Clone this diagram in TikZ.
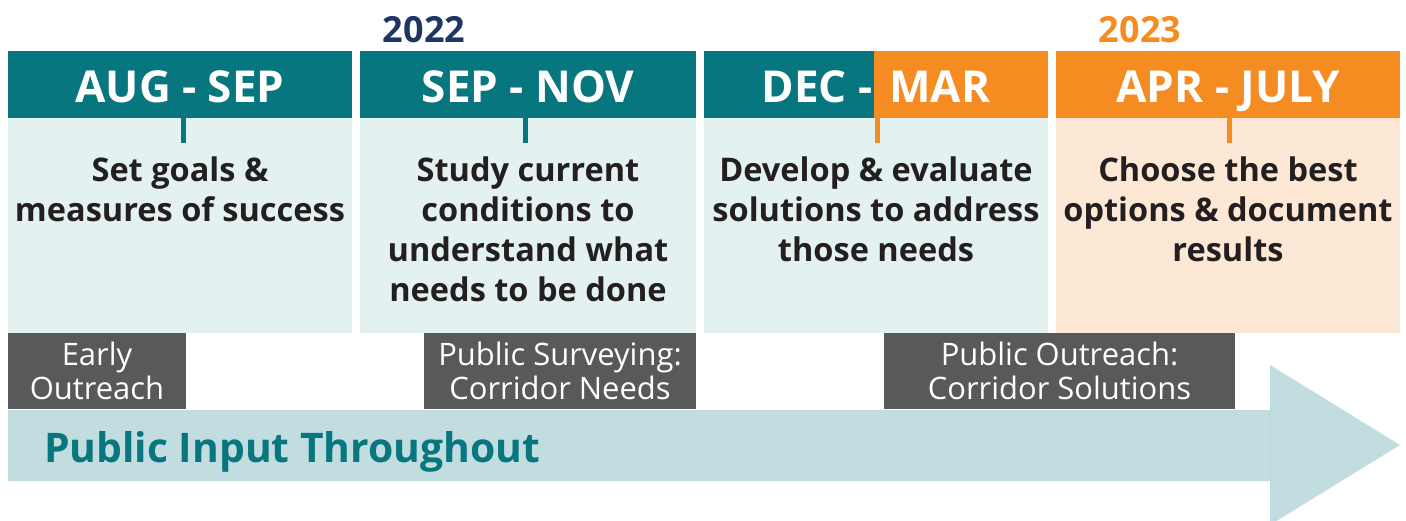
\documentclass[tikz,border=0pt]{standalone}
\usepackage{fontspec}
\setmainfont{Open Sans}
\usepackage{tikz}

\definecolor{hdteal}{HTML}{08767F}
\definecolor{bdteal}{HTML}{E3F1F1}
\definecolor{hdorange}{HTML}{F58C22}
\definecolor{bdorange}{HTML}{FDE8D6}
\definecolor{boxgray}{HTML}{58595B}
\definecolor{bandblue}{HTML}{C2DDE0}
\definecolor{txtdark}{HTML}{231F20}
\definecolor{yrnavy}{HTML}{1F3663}

\begin{document}
\begin{tikzpicture}[x=0.75pt,y=-0.75pt]
  \tikzset{phase/.style = {fill=hdteal,text=white,inner sep=0,minimum height=50.25pt,
      text height=30pt,text depth=3.75pt,font=\fontsize{33}{36}\selectfont\bfseries}}
  \tikzset{stage/.style = {fill=bdteal,inner sep=0,minimum height=161.25pt}}
  \tikzset{goal/.style = {anchor=north,inner sep=0,align=center,text=txtdark,
      font=\fontsize{24.4}{30}\selectfont\bfseries}}
  \tikzset{outreach/.style = {fill=boxgray,text=white,inner sep=0,minimum height=57pt,
      align=center,font=\fontsize{23.2}{25.5}\selectfont}}
  \tikzset{year/.style = {anchor=base,inner sep=0,font=\fontsize{27}{30}\selectfont\bfseries}}
  \tikzset{tick/.style = {line width=3.75pt,draw=hdteal}}

\useasboundingbox (0,0) rectangle (1406,521);

% years
\node[year,text=yrnavy] (y22) at (424,42) {2022};
\node[year,text=hdorange] (y23) at (1140,42) {2023};

% stage bodies
\node[stage,minimum width=258pt] (s1) at (180,225.5) {};
\node[stage,minimum width=252pt] (s2) at (528,225.5) {};
\node[stage,minimum width=258pt] (s3) at (876,225.5) {};
\node[stage,minimum width=258pt,fill=bdorange] (s4) at (1228,225.5) {};

% headers
\node[phase,minimum width=258pt] (h1) at (180,84.5) {AUG - SEP};
\node[phase,minimum width=252pt] (h2) at (528,84.5) {SEP - NOV};
\node[phase,minimum width=127.5pt] (h3a) at (789,84.5) {};
\node[phase,minimum width=130.5pt,fill=hdorange] (h3b) at (961,84.5) {};
\node[phase,fill=none] (h3) at (876,84.5) {DEC - \hspace{4pt}MAR};
\node[phase,minimum width=258pt,fill=hdorange] (h4) at (1228,84.5) {APR - JULY};

\coordinate (k1) at (183,143);
\coordinate (k2) at (525,143);
\coordinate (k3) at (877,143);
\coordinate (k4) at (1229,143);
  \draw[tick] (h1.south -| k1) -- (k1);
  \draw[tick] (h2.south -| k2) -- (k2);
  \draw[tick,draw=hdorange] (h3b.south -| k3) -- (k3);
  \draw[tick,draw=hdorange] (h4.south -| k4) -- (k4);

% what happens
\node[goal] (g1) at (180,157) {Set goals \&\\measures of success};
\node[goal] (g2) at (528,157) {Study current\\conditions to\\understand what\\needs to be done};
\node[goal] (g3) at (876,157) {Develop \& evaluate\\solutions to address\\those needs};
\node[goal] (g4) at (1228,157) {Choose the best\\options \& document\\results};

% public input arrow
\fill[bandblue] (8,410) -- (1270,410) -- (1270,365) -- (1400,445) -- (1270,525)
   -- (1270,481) -- (8,481) -- cycle;
\draw[bandblue!80!hdteal!70,line width=0.6pt] (1270,365) -- (1270,525);
\node[anchor=base west,inner sep=0,text=hdteal,font=\fontsize{30.6}{32}\selectfont\bfseries]
   (pit) at (44,462) {Public Input Throughout};

% outreach boxes
\node[outreach,minimum width=133.5pt] (o1) at (97,371) {Early\\Outreach};
\node[outreach,minimum width=204pt] (o2) at (560,371) {Public Surveying:\\Corridor Needs};
\node[outreach,minimum width=263.25pt] (o3) at (1059.5,371) {Public Outreach:\\Corridor Solutions};

\end{tikzpicture}
\end{document}
